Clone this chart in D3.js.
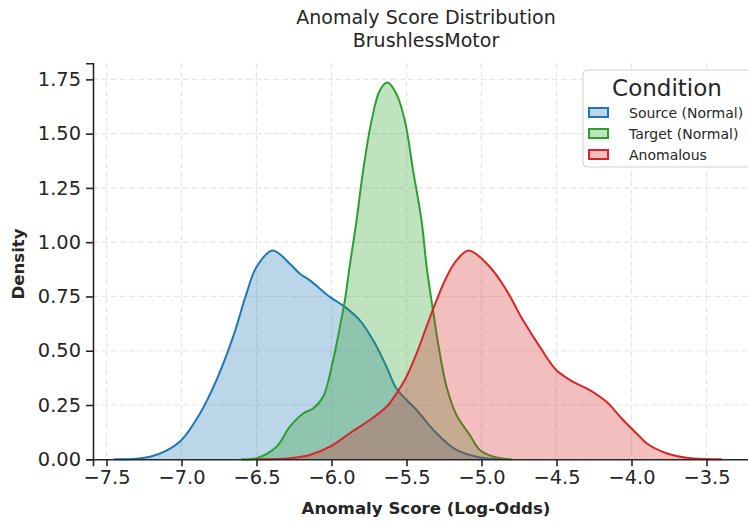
<!DOCTYPE html>
<html>
<head>
<meta charset="utf-8">
<script src="https://cdn.jsdelivr.net/npm/d3@7"></script>
<style>
  body { margin: 0; background: #fff; }
  svg { display: block; font-family: "DejaVu Sans", sans-serif; }
</style>
</head>
<body>
<div id="chart"></div>
<script>
// values (kde curves, x = log-odds, y = density)
var sourceX = [-7.45, -7.3, -7.21, -7.1, -7.0, -6.878, -6.767, -6.656, -6.567, -6.5, -6.393, -6.278, -6.211, -6.144, -6.011, -5.911, -5.811, -5.723, -5.633, -5.567, -5.433, -5.3, -5.167, -5.033, -4.9];
var sourceY = [0, 0.003, 0.012, 0.04, 0.089, 0.21, 0.365, 0.564, 0.763, 0.886, 0.962, 0.901, 0.855, 0.824, 0.748, 0.702, 0.64, 0.549, 0.426, 0.326, 0.227, 0.12, 0.043, 0.012, 0];

var targetX = [-6.6, -6.5, -6.367, -6.278, -6.189, -6.123, -6.056, -5.989, -5.944, -5.911, -5.878, -5.833, -5.789, -5.733, -5.678, -5.627, -5.567, -5.511, -5.456, -5.4, -5.363, -5.323, -5.289, -5.233, -5.167, -5.078, -5.011, -4.9, -4.8];
var targetY = [0, 0.005, 0.058, 0.15, 0.211, 0.234, 0.288, 0.457, 0.61, 0.732, 0.893, 1.10, 1.33, 1.56, 1.699, 1.735, 1.683, 1.56, 1.33, 1.10, 0.871, 0.686, 0.533, 0.334, 0.204, 0.112, 0.043, 0.008, 0];

var anomX = [-6.5, -6.278, -6.145, -6.011, -5.878, -5.745, -5.633, -5.567, -5.5, -5.433, -5.367, -5.3, -5.233, -5.167, -5.085, -4.944, -4.833, -4.723, -4.611, -4.5, -4.389, -4.278, -4.167, -4.056, -3.944, -3.9, -3.767, -3.633, -3.5, -3.4];
var anomY = [0, 0.005, 0.02, 0.058, 0.12, 0.181, 0.242, 0.303, 0.38, 0.487, 0.61, 0.732, 0.84, 0.916, 0.962, 0.886, 0.778, 0.64, 0.518, 0.41, 0.357, 0.319, 0.265, 0.181, 0.104, 0.074, 0.028, 0.007, 0.001, 0];

var seriesNames = ["Source (Normal)", "Target (Normal)", "Anomalous"];
var seriesColors = ["#1f77b4", "#2ca02c", "#d62728"];
var xTicks = [-7.5, -7.0, -6.5, -6.0, -5.5, -5.0, -4.5, -4.0, -3.5];
var yTicks = [0, 0.25, 0.5, 0.75, 1.0, 1.25, 1.5, 1.75];

var W = 748, H = 523;
var mLeft = 93, mRight = 759, mTop = 63.3, mBottom = 459.3;

var svg = d3.select("#chart").append("svg").attr("width", W).attr("height", H);

var x = d3.scaleLinear().domain([-7.59, -3.15]).range([mLeft, mRight]);
var y = d3.scaleLinear().domain([0, 1.824]).range([mBottom, mTop]);

// grid
var grid = svg.append("g");
grid.selectAll("line.gx").data(xTicks).enter().append("line")
	.attr("x1", function(d){ return x(d); }).attr("x2", function(d){ return x(d); })
	.attr("y1", mTop).attr("y2", mBottom)
	.attr("stroke", "#e6e6e6").attr("stroke-width", 1.2).attr("stroke-dasharray", "6,3");
grid.selectAll("line.gy").data(yTicks.slice(1)).enter().append("line")
	.attr("y1", function(d){ return y(d); }).attr("y2", function(d){ return y(d); })
	.attr("x1", mLeft).attr("x2", mRight)
	.attr("stroke", "#e6e6e6").attr("stroke-width", 1.2).attr("stroke-dasharray", "6,3");

// curves
var series = [
	{name: seriesNames[0], xs: sourceX, ys: sourceY, color: seriesColors[0]},
	{name: seriesNames[1], xs: targetX, ys: targetY, color: seriesColors[1]},
	{name: seriesNames[2], xs: anomX, ys: anomY, color: seriesColors[2]}
];

var curve = d3.curveCatmullRom.alpha(0.5);
var area = d3.area().curve(curve)
	.x(function(d){ return x(d[0]); }).y0(y(0)).y1(function(d){ return y(d[1]); });
var line = d3.line().curve(curve)
	.x(function(d){ return x(d[0]); }).y(function(d){ return y(d[1]); });

var plot = svg.append("g");
series.forEach(function(s){
	var pts = s.xs.map(function(v, i){ return [v, s.ys[i]]; });
	plot.append("path").datum(pts).attr("d", area)
		.attr("fill", s.color).attr("fill-opacity", 0.3);
	plot.append("path").datum(pts).attr("d", line)
		.attr("fill", "none").attr("stroke", s.color).attr("stroke-width", 2);
});

// axes
var xAxis = svg.append("g").attr("transform", "translate(0," + mBottom + ")")
	.call(d3.axisBottom(x).tickValues(xTicks).tickSizeOuter(0).tickSize(7).tickPadding(4)
		.tickFormat(function(d){ return d3.format(".1f")(d).replace("-", "\u2212"); }));
var yAxis = svg.append("g").attr("transform", "translate(" + mLeft + ",0)")
	.call(d3.axisLeft(y).tickValues(yTicks).tickSizeOuter(0).tickSize(7).tickPadding(5)
		.tickFormat(d3.format(".2f")));
[xAxis, yAxis].forEach(function(a){
	a.select(".domain").attr("stroke", "#262626").attr("stroke-width", 1.6);
	a.selectAll(".tick line").attr("stroke", "#262626").attr("stroke-width", 1.6);
	a.selectAll(".tick text").attr("fill", "#262626")
		.style("font-size", "19.4px").style("font-family", "DejaVu Sans");
});

// titles
svg.append("text").attr("x", 426).attr("y", 24).attr("text-anchor", "middle")
	.style("font-size", "19px").attr("fill", "#262626").text("Anomaly Score Distribution");
svg.append("text").attr("x", 426).attr("y", 47).attr("text-anchor", "middle")
	.style("font-size", "19px").attr("fill", "#262626").text("BrushlessMotor");
svg.append("text").attr("x", 426).attr("y", 514).attr("text-anchor", "middle")
	.style("font-size", "16.6px").style("font-weight", "bold").attr("fill", "#262626")
	.text("Anomaly Score (Log-Odds)");
svg.append("text").attr("transform", "translate(24,264) rotate(-90)").attr("text-anchor", "middle")
	.style("font-size", "16.6px").style("font-weight", "bold").attr("fill", "#262626")
	.text("Density");

// legend
var lg = svg.append("g").attr("transform", "translate(583,70)");
lg.append("rect").attr("width", 168).attr("height", 97).attr("rx", 4)
	.attr("fill", "#fff").attr("fill-opacity", 0.8).attr("stroke", "#d0d0d0");
lg.append("text").attr("x", 84).attr("y", 26).attr("text-anchor", "middle")
	.style("font-size", "23px").attr("fill", "#262626").text("Condition");
var items = lg.selectAll("g.item").data(series).enter().append("g")
	.attr("transform", function(d, i){ return "translate(0," + (42.5 + i * 21) + ")"; });
items.append("rect").attr("x", 6).attr("y", -4.5).attr("width", 19).attr("height", 9)
	.attr("fill", function(d){ return d.color; }).attr("fill-opacity", 0.3)
	.attr("stroke", function(d){ return d.color; }).attr("stroke-width", 2);
items.append("text").attr("x", 46).attr("y", 5)
	.style("font-size", "14px").attr("fill", "#262626")
	.text(function(d){ return d.name; });
</script>
</body>
</html>
